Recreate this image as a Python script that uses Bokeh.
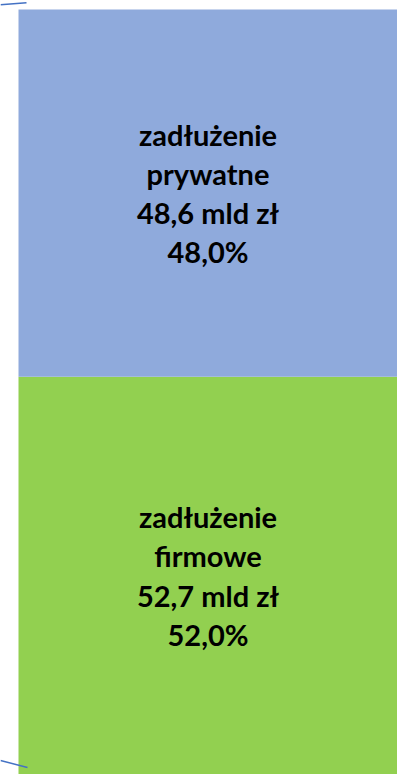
from bokeh.plotting import figure
from bokeh.models import Range1d, ColumnDataSource
from bokeh.core.properties import value
from bokeh.embed import file_html
from bokeh.resources import INLINE

# --- data ---
categories = ["zadłużenie firmowe", "zadłużenie prywatne"]
amounts_bn = [52.7, 48.6]          # mld zł
shares_pct = [52.0, 48.0]          # %
colors = ["#92D050", "#8FAADC"]

W, H = 397, 774
bar_left_px = 18
bar_top_px = 9
span_px = H - bar_top_px
y_top = 100.0 * H / span_px

bottoms, tops, mids, labels = [], [], [], []
acc = 0.0
for name, amt, sh in zip(categories, amounts_bn, shares_pct):
    bottoms.append(acc)
    tops.append(acc + sh)
    mids.append(acc + sh / 2)
    acc += sh
    lab = "{}\n{} mld zł\n{}%".format(
        name.replace(" ", "\n"),
        f"{amt:.1f}".replace(".", ","),
        f"{sh:.1f}".replace(".", ","),
    )
    labels.append(lab)

src = ColumnDataSource(dict(bottom=bottoms, top=tops, mid=mids, label=labels,
                            color=colors, left=[0, 0], right=[1, 1], x=[0.5, 0.5]))

p = figure(width=W, height=H, output_backend="svg", toolbar_location=None,
           x_range=Range1d(-bar_left_px / (W - bar_left_px), 1),
           y_range=Range1d(0, y_top),
           min_border=0, outline_line_color=None, background_fill_color="white",
           border_fill_color="white")
p.axis.visible = False
p.grid.visible = False

p.quad(left="left", right="right", bottom="bottom", top="top",
       fill_color="color", line_color=None, source=src)

p.text(x="x", y="mid", text="label", source=src, text_align="center",
       text_baseline="middle", text_font=value("Lato"), text_font_style="bold",
       text_font_size="29px", text_line_height=1.12, text_color="black")

# decorative leader lines (series-line connectors)
def px2x(px):
    return (px - bar_left_px) / (W - bar_left_px)

def py2y(py):
    return 100.0 * (H - py) / span_px

p.segment(x0=[px2x(0), px2x(0)], y0=[py2y(4.3), py2y(760)],
          x1=[px2x(26), px2x(27)], y1=[py2y(2.2), py2y(767)],
          line_color="#4472C4", line_width=1.5)

open("out.html", "w").write(file_html(p, INLINE))
